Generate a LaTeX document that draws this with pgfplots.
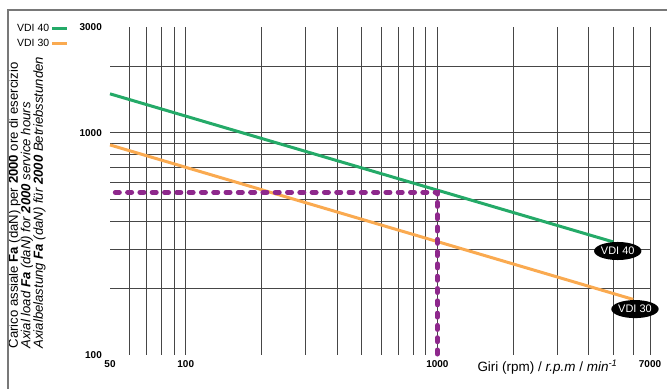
\documentclass[border=0pt]{standalone}
\usepackage{fontspec}
\setmainfont{Liberation Sans}
\usepackage{pgfplots}
\pgfplotsset{compat=1.18}
\usetikzlibrary{shapes.geometric}
\definecolor{vdigreen}{RGB}{36,170,104}
\definecolor{vdiorange}{RGB}{250,170,80}
\definecolor{vdipurple}{RGB}{142,40,140}
\definecolor{gridgray}{RGB}{70,70,70}
\definecolor{framegray}{RGB}{120,120,120}
\begin{document}
\begin{tikzpicture}
\begin{axis}[
  at={(110bp,34bp)}, anchor=south west,
  scale only axis, width=540bp, height=328bp,
  xmode=log, ymode=log,
  xmin=50, xmax=7000, ymin=100, ymax=3000,
  axis line style={draw=none},
  major tick length=0pt, minor tick length=0pt,
  xtick={60,70,80,90,100,200,300,400,500,600,700,800,900,1000,2000,3000,4000,5000,6000,7000},
  xticklabels={,,,,100,,,,,,,,,1000,,,,,,7000},
  ytick={200,300,400,500,600,700,800,900,1000,2000},
  yticklabels={,,,,,,,,1000,},
  extra x ticks={50},
  extra x tick labels={50},
  extra y ticks={100,3000},
  extra y tick labels={100,3000},
  extra tick style={grid=none},
  grid=major,
  major grid style={draw=gridgray, line width=0.9bp},
  tick label style={font=\fontsize{10}{12}\selectfont\bfseries},
  xticklabel style={anchor=center, yshift=-9bp},
  yticklabel style={anchor=east, inner sep=0pt, xshift=-8bp},
  clip=false,
  legend plot pos=right,
  legend style={draw=none, fill=none, at={(-0.175,1.013)}, anchor=north west,
    font=\fontsize{10.5}{12}\selectfont, row sep=3bp, inner sep=0pt,
    nodes={inner sep=1.5bp}},
  legend image code/.code={\draw[#1] (0bp,0bp) -- (15bp,0bp);},
  legend cell align=left,
]
\addplot[vdigreen, line width=3bp] coordinates {(50,1500) (5000,323)};
\addlegendentry{VDI 40}
\addplot[vdiorange, line width=3bp] coordinates {(50,883) (6000,178)};
\addlegendentry{VDI 30}
\addplot[vdipurple, line width=5bp, line cap=round, dash pattern=on 4bp off 8.3bp, forget plot]
  coordinates {(52.5,540) (1000,540) (1000,100)};
\node[ellipse, fill=black, text=white, inner xsep=0pt, inner ysep=2.5bp, font=\fontsize{11}{12}\selectfont] at (axis cs:5210,294) {VDI 40};
\node[ellipse, fill=black, text=white, inner xsep=0pt, inner ysep=2.5bp, font=\fontsize{11}{12}\selectfont] at (axis cs:6100,161) {VDI 30};
\end{axis}
\node[rotate=90, anchor=west, align=left, font=\fontsize{13.2}{12.6}\selectfont] at (27bp,37bp)
  {Carico assiale \textbf{Fa} (daN) per \textbf{2000} ore di esercizio\\
   \textit{Axial load \textbf{Fa} (daN) for \textbf{2000} service hours}\\
   \textit{Axialbelastung \textbf{Fa} (daN) für \textbf{2000} Betriebsstunden}};
\node[anchor=west, font=\fontsize{13.5}{15}\selectfont] at (474bp,22bp)
  {Giri (rpm) / \textit{r.p.m} / \textit{min}\textsuperscript{\textit{-1}}};
\draw[framegray, line width=1.2bp] (8bp,-2bp) -- (8bp,379bp) -- (670bp,379bp);
\pgfresetboundingbox
\useasboundingbox (0,0) rectangle (667bp,389bp);
\end{tikzpicture}
\end{document}
